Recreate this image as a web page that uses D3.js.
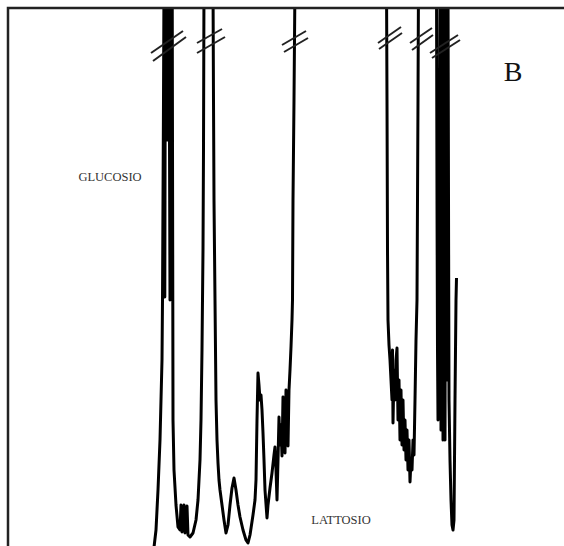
<!DOCTYPE html>
<html><head><meta charset="utf-8">
<script src="https://cdn.jsdelivr.net/npm/d3@7/dist/d3.min.js"></script>
<style>html,body{margin:0;padding:0;background:#fff;}svg{display:block;}</style>
</head><body>
<script>
// Chromatogram trace (time, signal) in arbitrary units
const traceTime = [
145,148,150,152,153,154,154.5,155,155.5,156,
156.8,157.4,158.5,159.5,160.5,161,162,162.6,163.2,163.8,
164.2,164.5,164.8,165,166,168,170,172,173,174,176,177,179,180,182,185,188,190,192,193,194,195,195.5,196,
205,205.5,206,207,208,209,210,211,212,214,
216,218,220,222,224,226,228,230,232,235,
238,240,242,245,247,248,249,250,251,252,
253,254,255,256,257,259,260,262,264,266,
267,268,269,270,271,272,273,274,275,276,
277,278,279,279.5,280,281,282,283,284,284.5,
285,286,287,
332,378.5,
379,379.5,380,381,382,383,384,384.5,385,386,
387,388,389,390,391,392,393,394,395,396,
397,398,399,400,401,402,403,404,405,406,
407,408,409,409.5,410,410.5,
419,428.5,429,429.5,430,431,432,433,434,435,
436,437,438,439,440,
440.5,441,442,443,444,445,446,447,448,448.5];
const traceSignal = [
-10,16,56,106,146,186,246,346,446,566,
249,566,406,566,406,566,246,566,406,566,
566,396,246,126,76,41,19,16,41,14,41,13,40,11,9,13,26,46,86,126,196,296,396,566,
566,446,346,246,146,106,83,66,56,41,
26,13,21,41,58,68,56,41,29,16,
6,3,11,31,46,66,126,173,161,146,
151,136,113,86,56,28,41,58,73,91,
99,76,46,86,129,101,121,90,149,126,
93,156,120,151,100,156,176,199,226,246,
346,446,566,
646,566,
446,296,226,201,186,166,146,196,123,176,
146,186,198,126,166,106,156,101,146,96,
126,86,116,76,106,64,86,76,106,91,
146,206,246,346,446,566,
626,566,346,196,126,246,566,116,566,106,
566,106,566,166,566,
346,146,86,46,21,16,26,146,246,268];

// Axis-break marks (pairs of slashes) at the clipped peaks
const breakStartTime = [143,145,189,189,274,276,370,371,402,404,422,424];
const breakStartSignal = [493,485,503,493,501,494,503,497,503,496,493,488];
const breakEndTime = [175,178,214,217,298,300,393,394,424,425,450,452];
const breakEndSignal = [515,509,517,509,515,508,519,513,518,511,511,506];

// Text labels
const labelTexts = ["GLUCOSIO", "LATTOSIO", "B"];
const labelTime = [102, 333, 505];
const labelSignal = [368, 25, 471];

const W = 564, H = 546;
const padL = 8, padT = 8;
const x = d3.scaleLinear().domain([0, 556]).range([padL, W]);
const y = d3.scaleLinear().domain([0, 538]).range([H, padT]);

const svg = d3.select("body").append("svg").attr("width", W).attr("height", H);

svg.append("clipPath").attr("id", "plot").append("rect")
  .attr("x", padL).attr("y", padT).attr("width", W - padL).attr("height", H - padT);

const pts = traceTime.map((t, i) => [t, traceSignal[i]]);
const line = d3.line().x(d => x(d[0])).y(d => y(d[1]));

svg.append("path")
  .attr("clip-path", "url(#plot)")
  .attr("d", line(pts))
  .attr("fill", "none")
  .attr("stroke", "#000")
  .attr("stroke-width", 3)
  .attr("stroke-linejoin", "round");

svg.append("g").selectAll("line")
  .data(breakStartTime)
  .join("line")
  .attr("x1", (d, i) => x(d))
  .attr("y1", (d, i) => y(breakStartSignal[i]))
  .attr("x2", (d, i) => x(breakEndTime[i]))
  .attr("y2", (d, i) => y(breakEndSignal[i]))
  .attr("stroke", "#222")
  .attr("stroke-width", 2);

// frame (top and left)
svg.append("path")
  .attr("d", `M${padL},${H}V${padT}H${W}`)
  .attr("fill", "none")
  .attr("stroke", "#222")
  .attr("stroke-width", 2.5);

const sizes = [12.5, 12.5, 28];
svg.append("g").selectAll("text")
  .data(labelTexts)
  .join("text")
  .attr("x", (d, i) => x(labelTime[i]))
  .attr("y", (d, i) => y(labelSignal[i]))
  .attr("text-anchor", "middle")
  .attr("dominant-baseline", "middle")
  .attr("font-family", "'Liberation Serif', 'DejaVu Serif', serif")
  .attr("font-size", (d, i) => sizes[i])
  .attr("fill", (d, i) => i < 2 ? "#333" : "#111")
  .text(d => d);
</script>
</body></html>
